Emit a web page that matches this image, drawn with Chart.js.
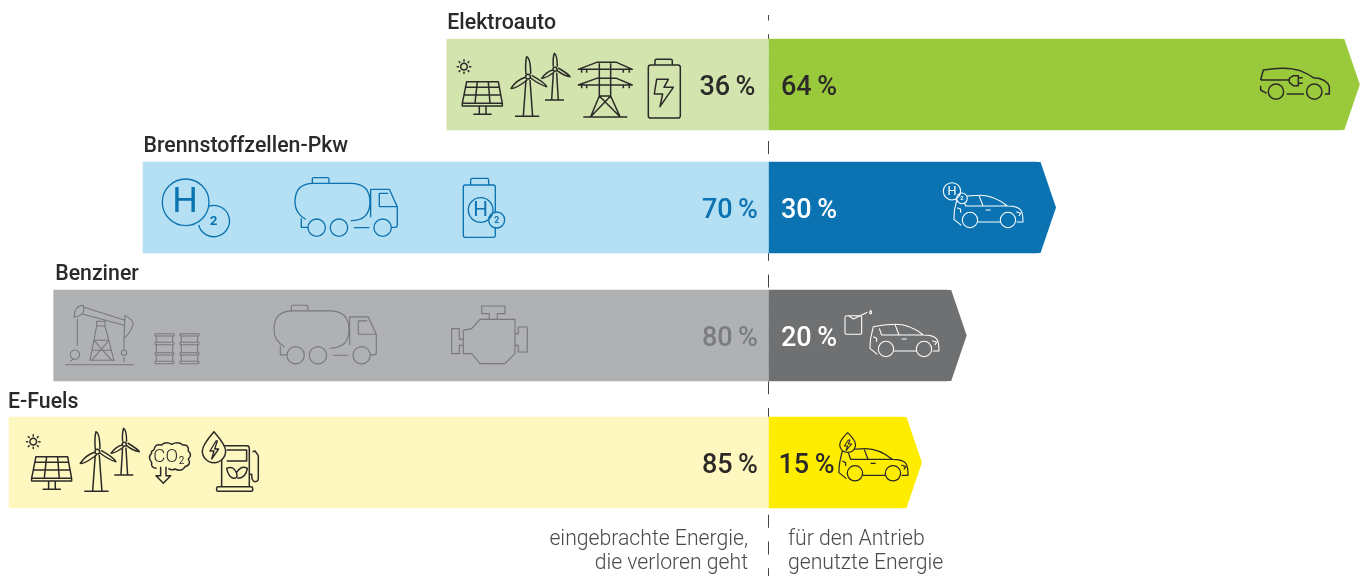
<!DOCTYPE html>
<html lang="de">
<head>
<meta charset="utf-8">
<title>Energieeffizienz</title>
<script src="https://cdn.jsdelivr.net/npm/chart.js@4/dist/chart.umd.js"></script>
<style>
  html, body { margin: 0; padding: 0; background: #fff; }
  canvas { display: block; }
</style>
</head>
<body>
<canvas id="energy-chart" width="1368" height="576"></canvas>
<script>
const categories = ['Elektroauto', 'Brennstoffzellen-Pkw', 'Benziner', 'E-Fuels'];
const lostEnergy = [36, 70, 80, 85];
const usedEnergy = [64, 30, 20, 15];
const footLost = ['eingebrachte Energie,', 'die verloren geht'];
const footUsed = ['für den Antrieb', 'genutzte Energie'];

const lostColors = ['#d3e4ae', '#b5dff2', '#b0b1b3', '#fef7bf'];
const usedColors = ['#9aca3c', '#0b73b2', '#6e7072', '#ffed00'];
const lostTextColors = ['#2b2a29', '#0b73b2', '#7a7c7e', '#2b2a29'];
const usedTextColors = ['#2b2a29', '#ffffff', '#ffffff', '#2b2a29'];
const rowNudge = [0, -3, -1, 0]; // the rows are not quite evenly spaced in the original
const titleNudge = [[0.5, 0], [0.5, 0], [1.5, 0], [-1, 1.5]];
const lostLabelGap = [13, 10.5, 10.5, 10.5];
const usedLabelGap = [12.5, 12.5, 12.5, 10];

const DARK = '#2b2a29', BLUE = '#0b73b2', GREY = '#77797b', WHITE = '#ffffff';

// icon paths are written at 3x, the plugin scales them down
const circle = (x, y, r) => `M${x - r},${y} a${r},${r} 0 1,0 ${2 * r},0 a${r},${r} 0 1,0 ${-2 * r},0 `;

const solarWind = new Path2D(
  'M80,245 H175 L187,310 H67 Z M67,310 V318 H187 V310 M77,262 H178 M73,285 H182 M112,245 L105,310 M145,245 L150,310 ' +
  'M118,318 V342 M138,318 V342 M100,343 H155 ' + circle(72, 200, 10) +
  'M72,178 V185 M72,215 V222 M50,200 H57 M87,200 H94 M56,184 L61,189 M83,211 L88,216 M88,184 L83,189 M61,211 L56,216 ' +
  'M258,222 Q255,190 260,170 Q272,175 272,222 M256,232 Q230,240 213,265 Q225,268 262,240 M272,234 Q300,255 320,260 Q315,248 275,226 ' +
  'M258,240 L250,349 M270,240 L278,349 M225,349 H298 ' + circle(264, 230, 7) +
  'M340,200 Q338,175 343,160 Q352,165 352,200 M338,210 Q320,215 305,235 Q318,235 343,216 M352,212 Q372,228 390,230 Q385,222 355,204 ' +
  'M340,218 L335,300 M350,218 L355,300 M315,300 H372 ' + circle(345, 208, 6));

const pylon = new Path2D(
  'M415,208 L470,187 H530 L577,208 Z M415,255 L470,235 H530 L577,255 Z M478,190 V288 M512,190 V288 M478,288 H512 ' +
  'M478,288 L452,350 M512,288 L540,350 M478,288 L540,350 M512,288 L452,350 M430,351 H562 ' +
  'M425,208 V218 M440,208 V218 M550,208 V218 M568,208 V218 M425,255 V265 M440,255 V265 M550,255 V265 M568,255 V265');

const battery = new Path2D(
  'M632,195 H714 Q721,195 721,202 V347 Q721,354 714,354 H632 Q625,354 625,347 V202 Q625,195 632,195 Z ' +
  'M645,195 V182 Q645,178 650,178 H692 Q697,178 697,182 V195 M650,238 H685 L672,262 H700 L660,320 L668,282 H643 Z');

const plugCar = new Path2D(
  'M92,150 L100,120 Q170,108 210,122 Q235,132 250,143 Q290,145 298,170 V192 H285 M170,192 H222 M92,167 V180 L110,190 M92,150 H178 ' +
  'M178,145 L190,137 H205 V167 H190 L178,157 Z M205,143 H218 M205,160 H218 ' + circle(138, 185, 23) + circle(253, 185, 23));

const h2Bubble = new Path2D(circle(137, 217, 70) + 'M208,228 A47,47 0 1,1 176,285');

const truck = new Path2D(
  'M632,272 Q690,272 690,216 Q690,160 632,160 H520 Q465,160 465,216 Q465,250 497,268 M517,160 V147 Q517,143 522,143 H562 Q567,143 567,147 V160 ' +
  'M484,265 V292 H505 M642,293 H688 M692,178 H748 L772,230 V285 Q772,292 765,292 H755 M692,178 V262 M718,230 V190 H745 M718,230 H772 ' +
  circle(530, 293, 26) + circle(597, 293, 26) + circle(728, 293, 26));

const h2Battery = new Path2D(
  'M1066,250 V171 Q1066,165 1060,165 H975 Q970,165 970,171 V316 Q970,322 975,322 H1060 Q1066,322 1066,316 V295 ' +
  'M992,165 V149 Q992,145 997,145 H1041 Q1046,145 1046,149 V165 ' + circle(1022, 240, 37) + circle(1070, 270, 24));

const car = new Path2D(
  'M340,125 Q385,118 410,118 Q450,118 490,150 Q525,150 532,165 Q537,175 537,198 H518 M402,198 H470 M340,125 L332,160 Q330,175 330,190 L352,208 ' +
  'M358,130 L365,150 H490 M405,118 L417,150 M425,162 H440 M340,155 L350,160 V170 M517,167 L530,172 L525,180 ' +
  circle(378, 192, 23) + circle(492, 192, 23));

const h2Small = new Path2D(circle(576, 109, 26) + circle(606, 130, 16));
const fuelCan = new Path2D(
  'M262,92 H300 Q305,92 305,97 V143 Q305,148 300,148 H260 Q255,148 255,143 V97 Q255,92 262,92 M265,92 L280,102 L322,82 M332,76 Q326,84 332,87 Q338,84 332,76 Z');
const greenDrop = new Path2D('M953,68 Q925,95 930,110 A24,24 0 0,0 976,110 Q981,95 953,68 Z');
const dropBolt = new Path2D('M955,90 L943,108 H953 L948,122 L965,102 H955 L960,90 Z');

const co2Cloud = new Path2D(
  'M462,195 Q465,175 485,180 Q498,168 515,178 Q535,168 548,180 Q568,178 565,198 Q578,210 565,222 Q575,240 555,245 Q545,262 525,252 Q515,258 505,250 ' +
  'M470,250 Q452,250 455,232 Q442,215 455,205 Q452,198 462,195 M482,245 V272 H468 L490,295 L512,272 H498 V245');
const pump = new Path2D(
  'M665,305 V190 Q665,182 672,182 H740 Q748,182 748,190 V305 M655,305 H752 Q758,305 758,310 V315 Q758,319 752,319 H655 Q650,319 650,315 V310 Q650,305 655,305 ' +
  'M680,195 H740 V228 H680 M748,268 H755 Q755,290 765,290 Q775,290 775,280 V212 L765,198 L758,200 ' +
  'M680,250 Q700,240 710,265 Q715,280 700,280 Q685,275 680,250 Z M710,262 Q725,240 742,250 Q738,280 712,280');
const pumpDrop = new Path2D('M642,140 Q607,180 607,198 A34,34 0 0,0 677,198 Q677,180 642,140 Z');
const pumpBolt = new Path2D('M648,168 L630,198 H642 L635,222 L656,192 H644 L652,168 Z');

// two stacks of three oil barrels
const barrelStacks = [313, 388].map(x =>
  [215, 241, 272, 298].map(y =>
    `M${x + 3},${y} H${x + 58} Q${x + 61},${y + 3.5} ${x + 58},${y + 7} H${x + 3} Q${x},${y + 3.5} ${x + 3},${y} Z `).join('') +
  [[222, 241], [248, 272], [279, 298]].map(([a, b]) => `M${x + 6},${a} V${b} M${x + 55},${a} V${b} `).join('')).join('');
const oilPump = new Path2D(
  'M100,135 L225,175 M95,155 L222,190 M72,165 Q75,130 100,130 Q105,150 95,157 Q85,165 72,165 Z M225,160 Q250,175 250,185 Q240,215 222,230 Z ' +
  'M140,178 H165 V192 H140 Z M140,192 L120,295 M165,192 L192,295 M132,235 H177 M125,265 H185 M132,235 L185,295 M177,235 L125,295 ' +
  'M82,170 V252 ' + circle(75, 278, 14) + 'M62,298 L70,290 M45,308 H252 M118,295 H195 M222,232 V262 ' + circle(222, 272, 8) + 'M222,285 V300 ' +
  barrelStacks);
const engine = new Path2D(
  'M1240,205 L1265,200 L1290,172 H1395 V275 L1365,305 H1290 L1265,275 H1240 Z M1240,232 H1228 V200 H1205 V275 H1228 V250 H1240 ' +
  'M1395,250 H1405 V270 H1432 V195 H1405 V215 H1395 M1295,155 V132 H1365 V155 H1342 V172 M1295,155 H1318 V172');

// row, path, dx and dy from the zero line and row centre, colour, line width, optional fill
const iconList = [
  [0, solarWind, -328.5, -84.5, DARK, 4.5],
  [0, pylon, -328.5, -84.5, DARK, 4.5],
  [0, battery, -328.5, -84.5, DARK, 4.5],
  [0, plugCar, 461.5, -54.5, DARK, 4.5],
  [1, h2Bubble, -628.5, -77.5, BLUE, 4],
  [1, truck, -628.5, -77.5, BLUE, 4],
  [1, h2Battery, -628.5, -77.5, BLUE, 4],
  [1, car, 75.5, -51.5, WHITE, 3.2],
  [1, h2Small, -8.5, -52.5, WHITE, 3.2, usedColors[1]],
  [2, oilPump, -718.5, -73.5, GREY, 3.2],
  [2, truck, -649.5, -77.9, GREY, 3.4],
  [2, engine, -718.5, -73.5, GREY, 3.4],
  [2, car, -8.5, -50.5, WHITE, 3.2],
  [2, fuelCan, -8.5, -50.5, WHITE, 3.2],
  [3, solarWind, -759.2, -87.5, DARK, 4.5],
  [3, co2Cloud, -768.5, -77.5, DARK, 4.5],
  [3, pump, -768.5, -77.5, DARK, 4.5],
  [3, pumpDrop, -768.5, -77.5, DARK, 4.5, lostColors[3]],
  [3, pumpBolt, -768.5, -77.5, DARK, 4],
  [3, car, -39.5, -53.2, DARK, 3.8],
  [3, greenDrop, -238.5, -52.5, DARK, 3.8, usedColors[3]],
  [3, dropBolt, -238.5, -52.5, DARK, 3.2],
];

// text inside the icons, same coordinates
const iconTexts = [
  [1, 'H', 135, 220, 108, 400, -628.5, -77.5, BLUE],
  [1, '2', 221, 275, 40, 700, -628.5, -77.5, BLUE],
  [1, 'H', 1022, 242, 62, 400, -628.5, -77.5, BLUE],
  [1, '2', 1070, 272, 26, 700, -628.5, -77.5, BLUE],
  [1, 'H', 576, 110, 38, 400, -8.5, -52.5, WHITE],
  [1, '2', 606, 131, 17, 700, -8.5, -52.5, WHITE],
  [3, 'CO', 497, 216, 56, 300, -768.5, -77.5, DARK],
  [3, '2', 545, 228, 30, 400, -768.5, -77.5, DARK],
];

const energyPlugin = {
  id: 'energyPlugin',
  afterDatasetsUpdate(chart) {
    chart.data.datasets.forEach((ds, d) => {
      chart.getDatasetMeta(d).data.forEach((bar, i) => { bar.y += rowNudge[i]; });
    });
  },
  beforeDatasetsDraw(chart) {
    const { ctx, scales } = chart;
    const x0 = Math.round(scales.x.getPixelForValue(0)) + 0.5;
    ctx.save();
    ctx.strokeStyle = '#444444';
    ctx.lineWidth = 1;
    ctx.setLineDash([13, 13.7]);
    ctx.lineDashOffset = 7.5;
    ctx.beginPath();
    ctx.moveTo(x0, 15);
    ctx.lineTo(x0, 576);
    ctx.stroke();
    ctx.restore();
  },
  afterDatasetsDraw(chart) {
    const { ctx, scales } = chart;
    const zero = scales.x.getPixelForValue(0);
    const lostBars = chart.getDatasetMeta(0).data;
    const usedBars = chart.getDatasetMeta(1).data;

    // arrow heads
    usedBars.forEach((bar, i) => {
      const top = bar.y - bar.height / 2, bottom = bar.y + bar.height / 2;
      ctx.fillStyle = usedColors[i];
      ctx.beginPath();
      ctx.moveTo(bar.x - 1, top);
      ctx.lineTo(bar.x + 4, top);
      ctx.lineTo(bar.x + 19.5, bar.y);
      ctx.lineTo(bar.x + 4, bottom);
      ctx.lineTo(bar.x - 1, bottom);
      ctx.closePath();
      ctx.fill();
    });

    // icons
    iconList.forEach(([row, path, dx, dy, color, lw, fill]) => {
      ctx.save();
      ctx.translate(zero + dx, lostBars[row].y + dy);
      ctx.scale(1 / 3, 1 / 3);
      ctx.strokeStyle = color;
      ctx.lineWidth = lw;
      ctx.lineJoin = 'round';
      if (fill) { ctx.fillStyle = fill; ctx.fill(path); }
      ctx.stroke(path);
      ctx.restore();
    });
    iconTexts.forEach(([row, txt, x, y, size, weight, dx, dy, color]) => {
      ctx.save();
      ctx.translate(zero + dx, lostBars[row].y + dy);
      ctx.scale(1 / 3, 1 / 3);
      ctx.fillStyle = color;
      ctx.font = `${weight} ${size}px Roboto`;
      ctx.textAlign = 'center';
      ctx.textBaseline = 'middle';
      ctx.fillText(txt, x, y);
      ctx.restore();
    });

    // row titles and percent labels
    ctx.textBaseline = 'alphabetic';
    lostBars.forEach((bar, i) => {
      ctx.fillStyle = '#2b2a29';
      ctx.font = '500 21.3px Roboto';
      ctx.textAlign = 'left';
      ctx.fillText(categories[i], bar.x + titleNudge[i][0], bar.y - bar.height / 2 - 10.5 + titleNudge[i][1]);

      ctx.font = '500 27px Roboto';
      ctx.textAlign = 'right';
      ctx.fillStyle = lostTextColors[i];
      ctx.fillText(lostEnergy[i] + '\u2009%', zero - lostLabelGap[i], bar.y + 10);
      ctx.textAlign = 'left';
      ctx.fillStyle = usedTextColors[i];
      ctx.fillText(usedEnergy[i] + '\u2009%', zero + usedLabelGap[i], bar.y + 10);
    });

    // captions under the bars
    ctx.font = '300 21.2px Roboto';
    ctx.fillStyle = '#4a4a4a';
    [545, 569].forEach((y, i) => {
      ctx.textAlign = 'right';
      ctx.fillText(footLost[i], zero - 20.5, y);
      ctx.textAlign = 'left';
      ctx.fillText(footUsed[i], zero + 19.5, y);
    });
  },
};

new Chart(document.getElementById('energy-chart').getContext('2d'), {
  type: 'bar',
  data: {
    labels: categories,
    datasets: [
      { label: 'verloren', data: lostEnergy.map(v => -v), backgroundColor: lostColors },
      { label: 'genutzt', data: usedEnergy, backgroundColor: usedColors },
    ],
  },
  options: {
    indexAxis: 'y',
    responsive: false,
    animation: false,
    barThickness: 91,
    layout: { padding: { top: 21.5, bottom: 50.5, left: 0, right: 0 } },
    plugins: { legend: { display: false }, tooltip: { enabled: false } },
    scales: {
      x: { stacked: true, display: false, min: -86.01, max: 67.1 },
      y: { stacked: true, display: false },
    },
  },
  plugins: [energyPlugin],
});
</script>
</body>
</html>
